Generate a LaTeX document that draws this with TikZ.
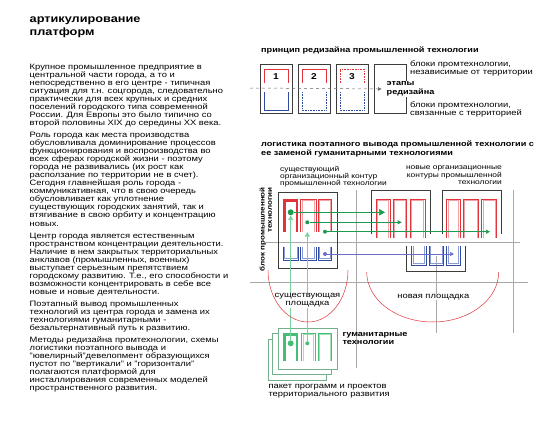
\documentclass[tikz,border=0pt]{standalone}
\usepackage{fontspec}
\setmainfont{Liberation Sans}[FakeStretch=1.2]
\usetikzlibrary{arrows.meta}

\definecolor{promred}{HTML}{E2333B}
\definecolor{promrose}{HTML}{F3A3A6}
\definecolor{promblue}{HTML}{2F4C9E}
\definecolor{promsky}{HTML}{8C9BD6}
\definecolor{flowgreen}{HTML}{1E9A4E}
\definecolor{humgreen}{HTML}{44BE74}
\definecolor{humlight}{HTML}{A6DDB8}
\definecolor{pkgline}{HTML}{74B08C}
\definecolor{flowblue}{HTML}{6C6CCC}
\definecolor{contour}{HTML}{3C3C3C}
\definecolor{gridgray}{HTML}{A8A8A8}

\begin{document}
\begin{tikzpicture}[x=1pt, y=-1pt, line cap=butt, line join=miter,
    title/.style={inner sep=0pt, anchor=north west, align=left, font=\fontsize{10.6}{12.7}\selectfont\bfseries},
    body/.style={inner sep=0pt, anchor=north west, align=left, font=\fontsize{7.8}{8.05}\selectfont},
    head/.style={inner sep=0pt, anchor=north west, align=left, font=\fontsize{7.6}{8.6}\selectfont\bfseries},
    note/.style={inner sep=0pt, anchor=north west, align=left, font=\fontsize{7.0}{7.2}\selectfont},
    stagebox/.style={draw=contour, line width=0.6pt, minimum width=32pt, minimum height=49pt, inner sep=0pt},
    sitebox/.style={draw=contour, line width=0.6pt, minimum width=59pt, minimum height=76pt, inner sep=0pt},
    tech/.style={promred, line width=0.6pt},
    techin/.style={promrose, line width=0.6pt},
    land/.style={promblue, line width=0.6pt},
    landin/.style={promsky, line width=0.6pt},
    border/.style={contour, line width=0.6pt},
    gridline/.style={gridgray, line width=0.7pt},
    site/.style={promred, line width=0.5pt},
    dot/.style={circle, fill=flowgreen, inner sep=0pt, minimum size=4pt},
    flow/.style={flowgreen, line width=0.6pt, -{Triangle[length=4pt,width=4pt]}},
    hum/.style={humgreen, line width=0.6pt},
    humin/.style={humlight, line width=0.6pt},
    lift/.style={humgreen!70, line width=0.6pt, -{Triangle[length=4.5pt,width=5pt]}}]
  \useasboundingbox (0,0) rectangle (558,442);

  % заголовок и текст
  \node[title] (ttl) at (29.5,16.5) {артикулирование\\платформ};
  \node[body] (notes) at (29.5,63.5) {Крупное промышленное предприятие в\\
    центральной части города, а то и\\
    непосредственно в его центре - типичная\\
    ситуация для т.н. соцгорода, следовательно\\
    практически для всех крупных и средних\\
    поселений городского типа современной\\
    России. Для Европы это было типично со\\
    второй половины XIX до середины XX века.\\[4pt]
    Роль города как места производства\\
    обусловливала доминирование процессов\\
    функционирования и воспроизводства во\\
    всех сферах городской жизни - поэтому\\
    города не развивались (их рост как\\
    расползание по территории не в счет).\\
    Сегодня главнейшая роль города -\\
    коммуникативная, что в свою очередь\\
    обусловливает как уплотнение\\
    существующих городских занятий, так и\\
    втягивание в свою орбиту и концентрацию\\
    новых.\\[4pt]
    Центр города является естественным\\
    пространством концентрации деятельности.\\
    Наличие в нем закрытых территориальных\\
    анклавов (промышленных, военных)\\
    выступает серьезным препятствием\\
    городскому развитию. Т.е., его способности и\\
    возможности концентрировать в себе все\\
    новые и новые деятельности.\\[4pt]
    Поэтапный вывод промышленных\\
    технологий из центра города и замена их\\
    технологиями гуманитарными -\\
    безальтернативный путь к развитию.\\[4pt]
    Методы редизайна промтехнологии, схемы\\
    логистики поэтапного вывода и\\
    "ювелирный"девелопмент образующихся\\
    пустот по "вертикали" и "горизонтали"\\
    полагаются платформой для\\
    инсталлирования современных моделей\\
    пространственного развития.};

  % принцип редизайна
  \node[head] (head1) at (261,47) {принцип редизайна промышленной технологии};
  \node[stagebox] (s1) at (276,88.5) {};
  \node[stagebox] (s2) at (314,88.5) {};
  \node[stagebox] (s3) at (352,88.5) {};
  \node[stagebox] (s4) at (390.5,88.5) {};
  \draw[tech] (264,83) |- (288,69) -- (288,83);
  \draw[land] (264,92) |- (288,110) -- (288,92);
  \draw[tech] (302,83) |- (326,69) -- (326,83);
  \draw[land, densely dotted] (302,92) |- (326,110) -- (326,92);
  \draw[tech, densely dotted] (340,83) |- (364,69) -- (364,83);
  \draw[land, densely dotted] (340,92) |- (364,110) -- (364,92);
  \node[head, anchor=center, font=\fontsize{8.5}{9}\selectfont\bfseries] (n1) at (276,77) {1};
  \node[head, anchor=center, font=\fontsize{8.5}{9}\selectfont\bfseries] (n2) at (314,77) {2};
  \node[head, anchor=center, font=\fontsize{8.5}{9}\selectfont\bfseries] (n3) at (352,77) {3};
  \coordinate (dstart) at (250,88);
  \node[head, anchor=west, fill=white, inner sep=0.5pt] (stages) at (386,89) {этапы\\редизайна};
  \draw[gray!80!black, line width=0.5pt, dashed, shorten >=4.5pt,
    -{Triangle[length=3.5pt,width=3.5pt]}] (dstart) -- (stages.west);
  \node[body] (indep) at (410,61) {блоки промтехнологии,\\независимые от территории};
  \node[body] (bound) at (410,102) {блоки промтехнологии,\\связанные с территорией};

  % логистика вывода
  \node[head] (head2) at (261,141) {логистика поэтапного вывода промышленной технологии с\\
    ее заменой гуманитарными технологиями};
  \node[note] (oldcap) at (280,166) {существующий\\организационный контур\\промышленной технологии};
  \node[note, anchor=north east, align=right] (newcap) at (502,166) {новые организационные\\контуры промышленной\\технологии};
  \node[inner sep=0pt, rotate=90, anchor=north east, align=right,
    font=\fontsize{6.7}{7.2}\selectfont\bfseries] (blocklbl) at (259.5,187) {блок промышленной\\технологии};

  \draw[gridline] (265,242.5) -- (520,242.5);
  \draw[gridline] (250,282) -- (528,282);
  \draw[gridline] (356,190) -- (356,368);
  \draw[gridline] (513,190) -- (513,333);
  \draw[gridline] (436,256) -- (436,333);

  % существующая площадка
  \node[sitebox] (oldsite) at (307.8,230) {};
  \draw[tech, line width=2.6pt] (284.6,231.7) |- (297,200.5) -- (297,231.7);
  \foreach \a/\b in {300.7/316, 318.3/331.7} {
    \draw[tech] (\a,231.7) |- (\b,199.3) -- (\b,231.7);
    \draw[techin] (\a+1.4,231.7) |- (\b-1.4,200.7) -- (\b-1.4,231.7);
  }
  \foreach \a/\b in {283.3/298.3, 300.7/316, 318.3/331.7} {
    \draw[land] (\a,246.7) |- (\b,260) -- (\b,246.7);
    \draw[landin] (\a+1.4,246.7) |- (\b-1.4,258.6) -- (\b-1.4,246.7);
  }

  % новая площадка
  \draw[border] (371.7,234.3) |- (430,190.7) -- (430,234.3);
  \draw[border] (442.7,234.3) |- (501.7,190.7) -- (501.7,234.3);
  \foreach \a/\b in {376/390, 393.3/406.7, 410/425, 446.7/460, 463.3/478.3, 481.7/496.7} {
    \draw[tech] (\a,238.3) |- (\b,199.3) -- (\b,238.3);
    \draw[techin] (\a+1.4,238.3) |- (\b-1.4,200.7) -- (\b-1.4,238.3);
  }
  \draw[border] (406.7,246) |- (465,271.7) -- (465,246);
  \foreach \a/\b in {411.7/426, 429.3/443.3, 446.7/460} {
    \draw[land] (\a,246) |- (\b,265) -- (\b,246);
    \draw[landin] (\a+1.4,246) |- (\b-1.4,263.6) -- (\b-1.4,246);
  }

  % пакет гуманитарных технологий
  \draw[pkgline, fill=white, line width=0.6pt] (268.3,339.3) rectangle (326.7,380);
  \draw[pkgline, fill=white, line width=0.6pt] (272.7,333.3) rectangle (331.7,374);
  \draw[pkgline, fill=white, line width=0.6pt] (278.3,328.3) rectangle (337.3,369);
  \draw[hum, line width=2.6pt] (284.6,361) |- (297,334.5) -- (297,361);
  \foreach \a/\b in {301.7/315, 318.3/331.7} {
    \draw[hum] (\a,361) |- (\b,333.3) -- (\b,361);
    \draw[humin] (\a+1.4,361) |- (\b-1.4,334.7) -- (\b-1.4,361);
  }
  \node[dot, fill=humgreen, minimum size=6pt] (pdotA) at (290.7,343.3) {};
  \node[dot, fill=humgreen] (pdotB) at (307.3,343.3) {};
  \coordinate (liftA) at (290.7,215.5);
  \coordinate (liftB) at (307.3,232);
  \draw[lift] (pdotA) -- (liftA);
  \draw[lift] (pdotB) -- (liftB);
  \node[head] (humlbl) at (342.3,332) {гуманитарные\\технологии};
  \node[body] (pkglbl) at (268.3,384) {пакет программ и проектов\\территориального развития};

  % потоки
  \node[dot, minimum size=6pt] (dotA) at (290.7,212.3) {};
  \node[dot] (dotB) at (307.3,222.3) {};
  \node[dot] (dotC) at (325,231.7) {};
  \node[dot, fill=flowblue] (dotD) at (325,254) {};
  \coordinate (tgtA) at (385,212.3);
  \coordinate (tgtB) at (401.7,222.3);
  \coordinate (tgtC) at (490,231.7);
  \coordinate (tgtD) at (454,254);
  \draw[flow, -{Triangle[length=6pt,width=6.5pt]}] (dotA) -- (tgtA);
  \draw[flow] (dotB) -- (tgtB);
  \draw[flow] (dotC) -- (tgtC);
  \draw[flow, flowblue] (dotD) -- (tgtD);

  % площадки
  \node[body, anchor=center, align=center, fill=white, inner sep=0.6pt] (oldlbl) at (307.5,300)
    {существующая\\площадка};
  \node[body, anchor=center, fill=white, inner sep=0.6pt] (newlbl) at (433.3,297) {новая площадка};
  \draw[site] (268,270) arc[start angle=180, end angle=360, x radius=40pt, y radius=52pt];
  \draw[site] (366.7,272) arc[start angle=180, end angle=360, x radius=66pt, y radius=50pt];
\end{tikzpicture}
\end{document}
